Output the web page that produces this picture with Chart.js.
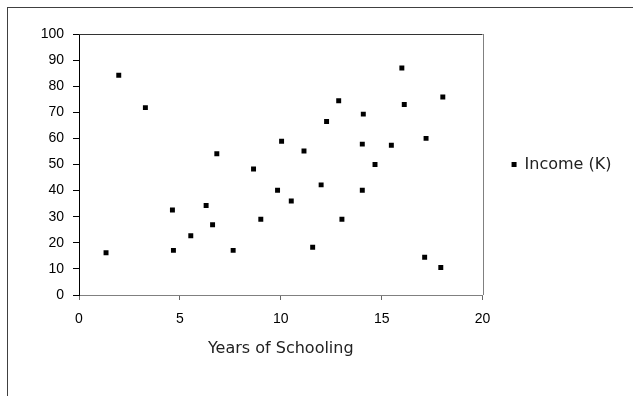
<!DOCTYPE html>
<html>
<head>
<meta charset="utf-8">
<script src="https://cdn.jsdelivr.net/npm/chart.js@4.4.1/dist/chart.umd.min.js"></script>
<style>
html, body { margin: 0; padding: 0; background: #fff; overflow: hidden; }
#wrap { position: relative; width: 633px; height: 396px; }
#frame { position: absolute; left: 7px; top: 7px; width: 700px; height: 500px;
         border-top: 1px solid #404040; border-left: 1px solid #404040; }
#chart { position: absolute; left: 0; top: 0; }
</style>
</head>
<body>
<div id="wrap">
  <div id="frame"></div>
  <canvas id="chart" width="633" height="396"></canvas>
</div>
<script>
// years of schooling vs income
const schooling = [1.34, 1.97, 3.29, 4.63, 4.68, 5.54, 6.3, 6.62, 6.83, 7.64,
                   8.65, 9.01, 9.84, 10.04, 10.52, 11.15, 11.58, 12.0, 12.27, 12.87,
                   13.03, 14.04, 14.04, 14.09, 14.67, 15.48, 16.0, 16.12, 17.13, 17.2,
                   17.93, 18.03];
const income = [16.2, 84.2, 71.8, 32.6, 17.1, 22.7, 34.3, 26.9, 54.1, 17.1,
                48.3, 29.0, 40.1, 58.9, 36.0, 55.2, 18.3, 42.2, 66.5, 74.4,
                29.0, 57.8, 40.1, 69.3, 50.0, 57.4, 87.0, 73.0, 14.5, 60.0,
                10.5, 75.9];
const seriesName = 'Income (K)';
const xTitle = 'Years of Schooling';

const tickFont = { family: 'Liberation Sans', size: 14 };
const textFont = { family: 'DejaVu Sans', size: 16 };

// top and right edges of the plot area
const plotFrame = {
    id: 'plotFrame',
    beforeDatasetsDraw(chart) {
        const { ctx, chartArea: a } = chart;
        ctx.save();
        ctx.lineWidth = 1;
        ctx.strokeStyle = '#333';
        ctx.beginPath();
        ctx.moveTo(a.left, Math.round(a.top) + 0.5);
        ctx.lineTo(a.right, Math.round(a.top) + 0.5);
        ctx.stroke();
        ctx.strokeStyle = '#808080';
        ctx.beginPath();
        ctx.moveTo(Math.round(a.right) + 0.5, a.top);
        ctx.lineTo(Math.round(a.right) + 0.5, a.bottom);
        ctx.stroke();
        ctx.restore();
    }
};

const points = schooling.map((x, i) => ({ x: x, y: income[i] }));

new Chart(document.getElementById('chart').getContext('2d'), {
    type: 'scatter',
    data: {
        datasets: [{
            label: seriesName,
            data: points,
            pointStyle: 'rect',
            pointRadius: 3.5,
            pointBorderWidth: 0,
            borderWidth: 0,
            backgroundColor: '#000',
            borderColor: '#000'
        }]
    },
    options: {
        responsive: false,
        animation: false,
        layout: { padding: { top: 34, right: 11.5, bottom: 0, left: 0 } },
        plugins: {
            tooltip: { enabled: false },
            legend: {
                position: 'right',
                fullSize: false,
                labels: {
                    boxWidth: 5,
                    boxHeight: 5,
                    padding: 29,
                    color: '#222',
                    font: textFont
                }
            }
        },
        scales: {
            x: {
                type: 'linear',
                min: 0,
                max: 20,
                afterFit: s => { s.height = 101; },
                ticks: { stepSize: 5, color: '#000', font: tickFont, padding: 11 },
                grid: { drawOnChartArea: false, tickLength: 5, color: '#666' },
                border: { color: '#808080', width: 1 },
                title: {
                    display: true,
                    text: xTitle,
                    color: '#222',
                    font: textFont,
                    padding: { top: 0, bottom: 38 }
                }
            },
            y: {
                min: 0,
                max: 100,
                afterFit: s => { s.width = 79; },
                ticks: { stepSize: 10, color: '#000', font: tickFont, padding: 9 },
                grid: { drawOnChartArea: false, tickLength: 6, color: '#000' },
                border: { color: '#000', width: 1 }
            }
        }
    },
    plugins: [plotFrame]
});
</script>
</body>
</html>
